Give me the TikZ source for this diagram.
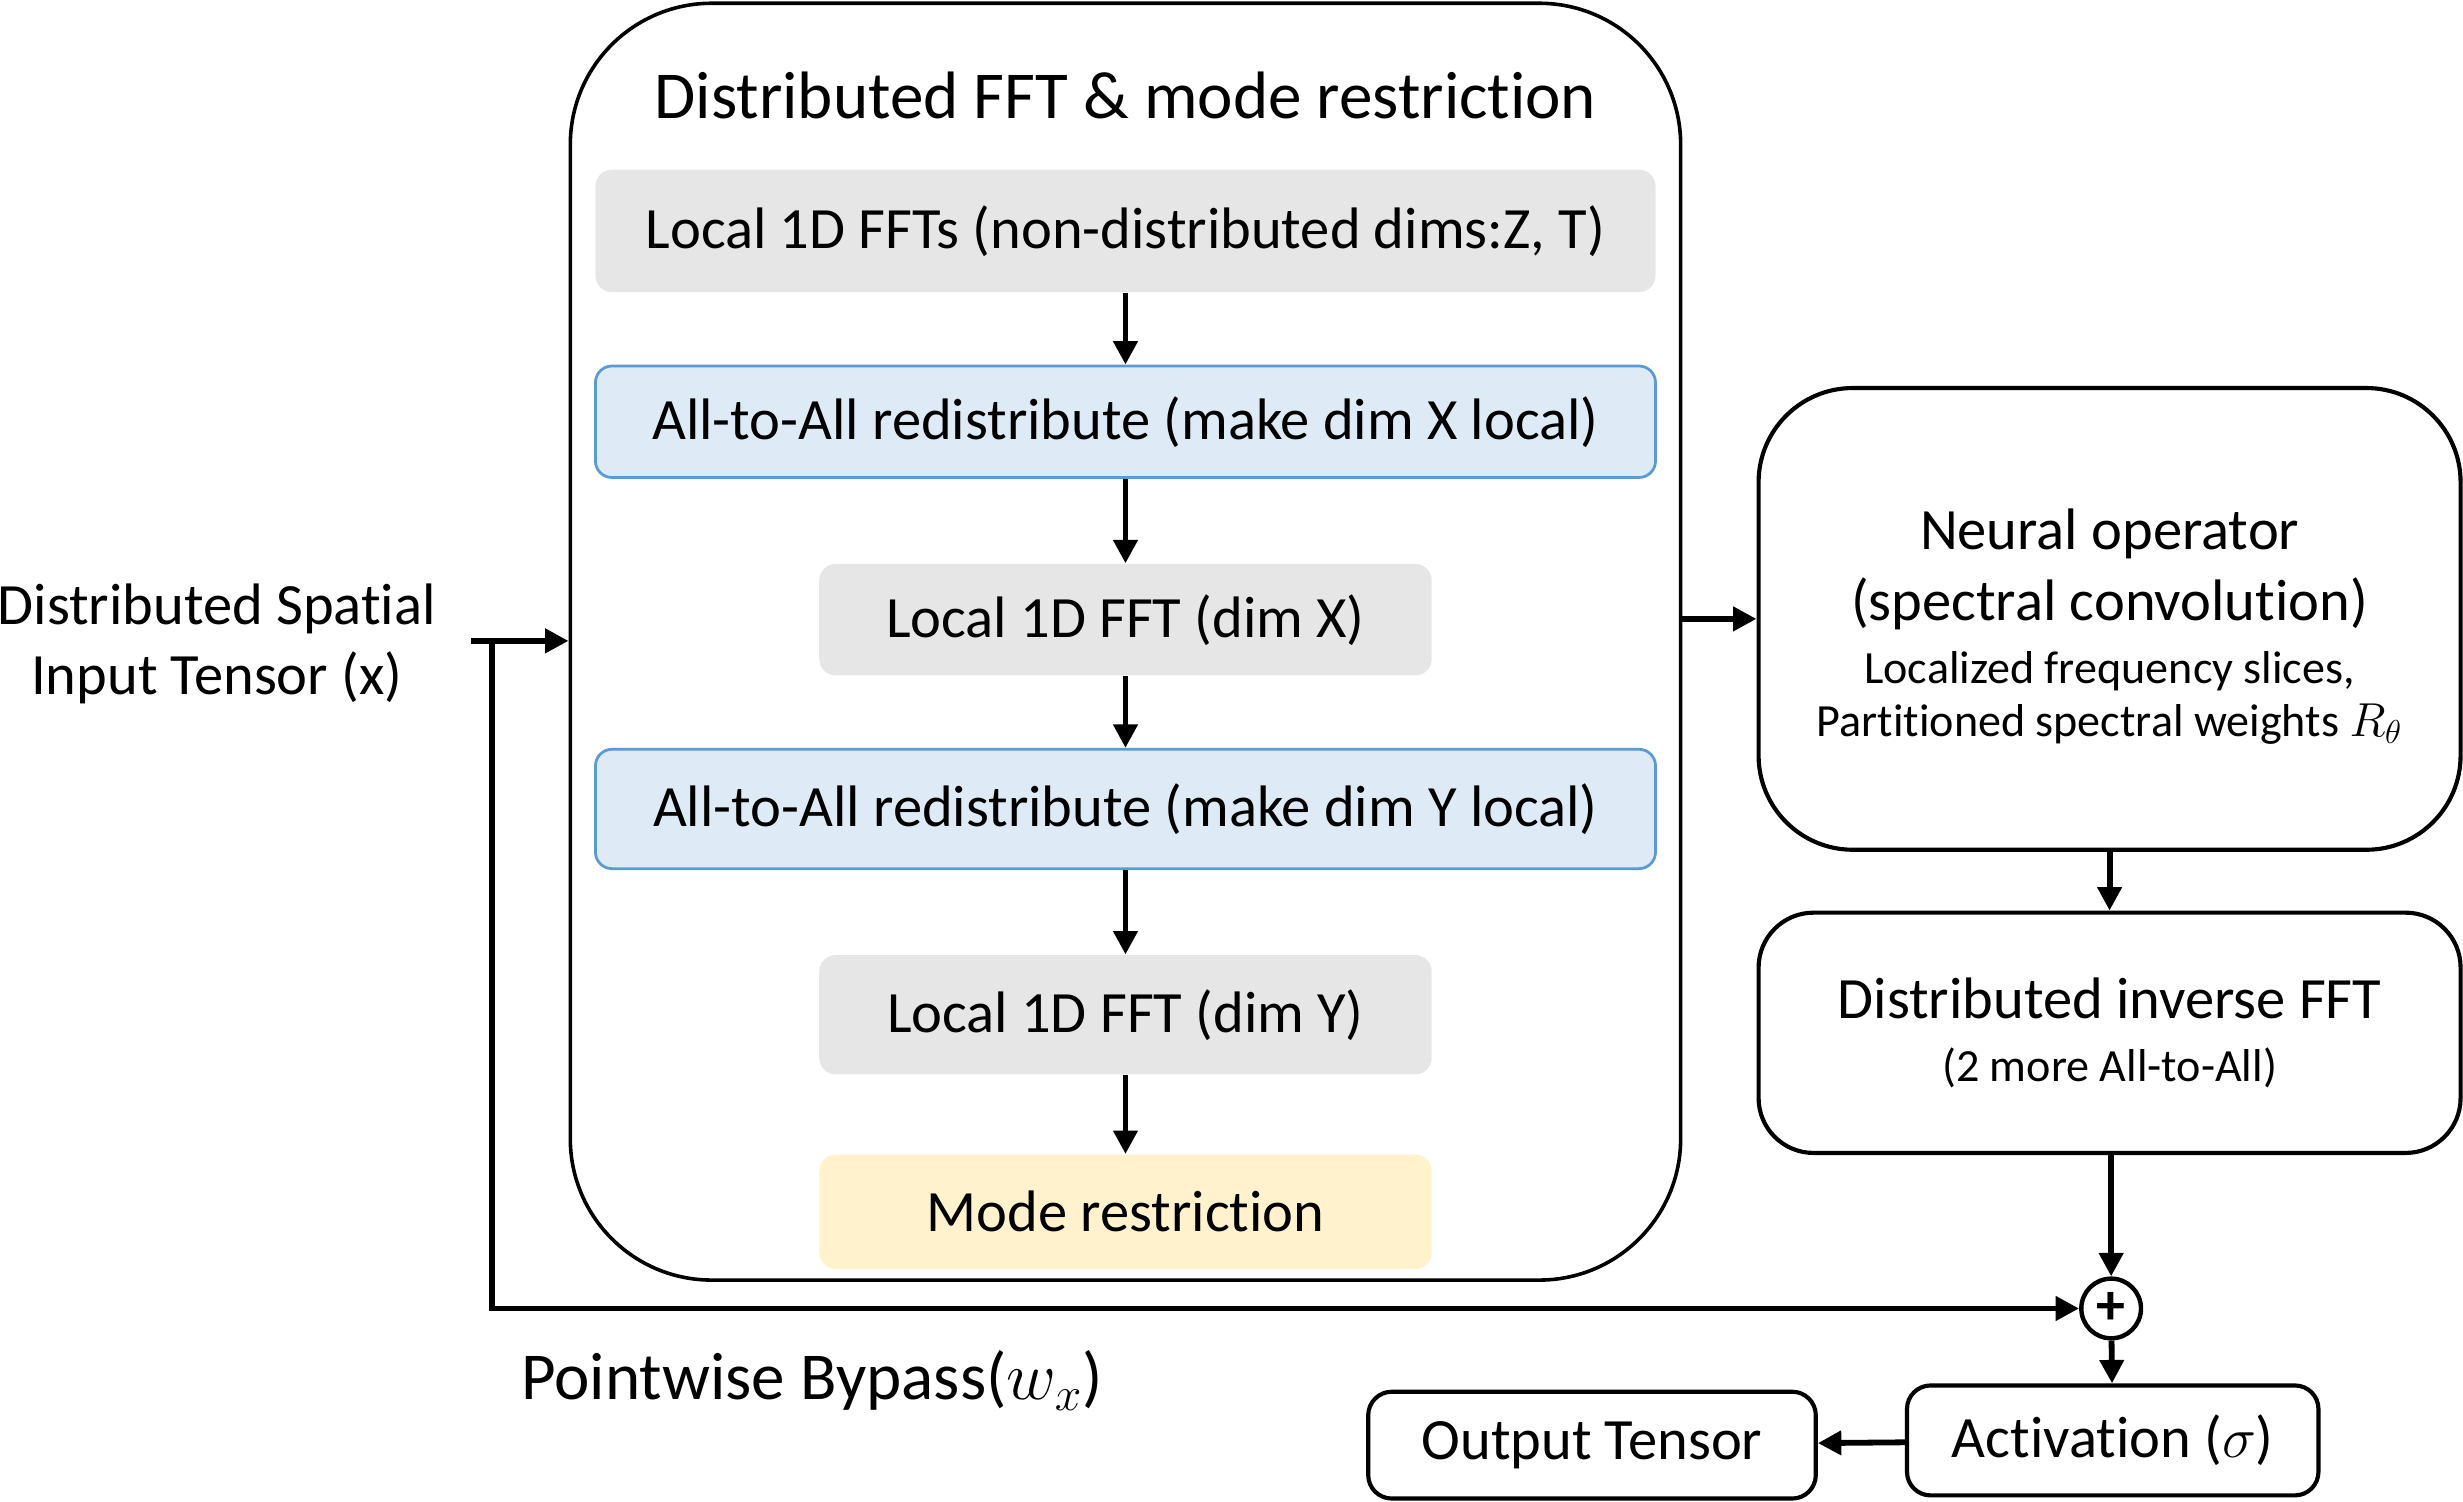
\documentclass[tikz,border=0pt]{standalone}
\usepackage{fontspec}
\setmainfont{Carlito}[Ligatures=NoCommon]
\usetikzlibrary{arrows.meta}
\usetikzlibrary{positioning}
\definecolor{localgray}{HTML}{E7E6E6}
\definecolor{atafill}{HTML}{DEEBF7}
\definecolor{ataline}{HTML}{5B9BD5}
\definecolor{modefill}{HTML}{FFF2CC}
\newcommand{\smalltxt}{\fontsize{16.7}{19.3}\selectfont}

\begin{document}
\begin{tikzpicture}[x=0.02cm, y=-0.02cm, >={Triangle[length=8.5pt,width=8.5pt]},
  txt/.style={font=\fontsize{21.2}{25.6}\selectfont},
  big/.style={font=\fontsize{24.3}{28}\selectfont},
  local/.style={txt, fill=localgray, rounded corners=6pt},
  ata/.style={txt, fill=atafill, draw=ataline, line width=1pt, rounded corners=6pt, minimum width=13.5cm},
  block/.style={txt, draw, line width=1.5pt, align=center},
  flow/.style={->, line width=2.1pt}]
\useasboundingbox (0,0) rectangle (1568,956);

% distributed FFT stage
\node[draw, line width=1.3pt, rounded corners=1.8cm, minimum width=14.14cm, minimum height=16.26cm] (fftbox) at (716.5,408.5) {};
\node[big] (title) at (716.5,61) {Distributed FFT \& mode restriction};
\node[local, minimum width=13.5cm, minimum height=1.56cm] (zt) at (716.5,147) {Local 1D FFTs (non-distributed dims:Z, T)};
\node[ata, minimum height=1.42cm] (atax) at (716.5,268.5) {All-to-All redistribute (make dim X local)};
\node[local, minimum width=7.8cm, minimum height=1.42cm] (fftx) at (716.5,394.5) {Local 1D FFT (dim X)};
\node[ata, minimum height=1.52cm] (atay) at (716.5,515) {All-to-All redistribute (make dim Y local)};
\node[local, minimum width=7.8cm, minimum height=1.52cm] (ffty) at (716.5,646) {Local 1D FFT (dim Y)};
\node[local, fill=modefill, minimum width=7.8cm, minimum height=1.46cm] (mode) at (716.5,771.5) {Mode restriction};

% spectral side
\node[block, rounded corners=1.2cm, minimum width=8.94cm, minimum height=5.88cm] (neural) at (1343,394) {};
\node[txt, align=center] (neuraltxt) at (1343,399)
  {Neural operator\\(spectral convolution)\\[-2.8pt]\smalltxt Localized frequency slices,\\[-6.3pt]\smalltxt Partitioned spectral weights $R_\theta$};
\node[block, rounded corners=0.7cm, minimum width=8.94cm, minimum height=3.06cm] (ifft) at (1343,657.5)
  {Distributed inverse FFT\\[-2.8pt]\smalltxt (2 more All-to-All)};
\node[draw, circle, line width=1.6pt, minimum size=0.76cm, inner sep=0pt, font=\fontsize{21}{21}\bfseries] (plus) at (1344,833) {+};
\node[block, rounded corners=0.3cm, minimum width=5.24cm, minimum height=1.4cm] (act) at (1345,917) {Activation ($\sigma$)};
\node[block, rounded corners=0.3cm, minimum width=5.7cm, minimum height=1.36cm] (out) at (1013.5,920) {Output Tensor};

% input and bypass
\node[txt, align=center] (input) at (138,410) {Distributed Spatial\\Input Tensor (x)};
\node[big] (bypass) at (517,879) {Pointwise Bypass($w_x$)};
\coordinate (start) at (300,408);
\coordinate (split) at (313,408);

\draw[flow] (start) -- (start -| fftbox.west);
\draw[flow] (zt) -- (atax);
\draw[flow] (atax) -- (fftx);
\draw[flow] (fftx) -- (atay);
\draw[flow] (atay) -- (ffty);
\draw[flow] (ffty) -- (mode);
\draw[flow] (fftbox.east |- neural) -- (neural);
\draw[flow] (neural) -- (ifft);
\draw[flow] (ifft.south -| plus) -- (plus);
\draw[flow] (split) |- (plus);
\draw[flow] (plus) -- (act);
\draw[flow] (act) -- (out);
\end{tikzpicture}
\end{document}
